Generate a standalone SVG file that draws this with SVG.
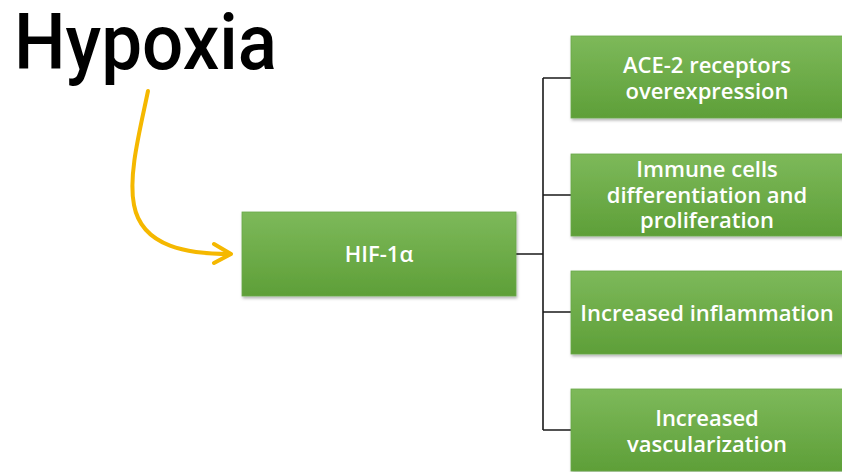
<svg xmlns="http://www.w3.org/2000/svg" width="842" height="472" viewBox="0 0 842 472">
  <defs>
    <linearGradient id="g" x1="0" y1="0" x2="0" y2="1">
      <stop offset="0" stop-color="#7db95a"/>
      <stop offset="1" stop-color="#5e9f38"/>
    </linearGradient>
    <filter id="sh" x="-10%" y="-10%" width="120%" height="130%">
      <feDropShadow dx="1" dy="2" stdDeviation="1.5" flood-color="#000" flood-opacity="0.3"/>
    </filter>
  </defs>
  <style>
    .box { fill: url(#g); stroke: #6aa84a; stroke-width: 0.8; filter: url(#sh); }
    .lbl { font-family: "Open Sans", "Noto Sans", sans-serif; font-weight: 600; font-size: 22px; fill: #ffffff; text-anchor: middle; }
    .conn { fill: none; stroke: #1a1a1a; stroke-width: 1.6; }
    .yel { fill: none; stroke: #f5b800; stroke-width: 4; stroke-linecap: round; stroke-linejoin: round; }
  </style>
  <rect width="842" height="472" fill="#ffffff"/>

  <g id="hypoxia">
    <text x="14" y="69" font-family="Roboto, Liberation Sans, sans-serif" font-weight="500" font-size="78" fill="#000" textLength="263" lengthAdjust="spacingAndGlyphs">Hypoxia</text>
  </g>

  <g id="connectors">
    <path class="yel" d="M148 91 C140 130 128 175 134 205 C142 248 190 254 230 254"/>
    <path class="yel" d="M214 244 L231 254 L214 263"/>
    <path class="conn" d="M516 254 H543 M543 78 V430 M543 78 H571 M543 195 H571 M543 312 H571 M543 430 H571"/>
  </g>

  <g id="hif">
    <rect class="box" x="242" y="212" width="274" height="84"/>
    <text class="lbl" x="379" y="262">HIF-1α</text>
  </g>

  <g id="ace2">
    <rect class="box" x="571" y="36" width="275" height="82"/>
    <text class="lbl" x="707" y="73">ACE-2 receptors</text>
    <text class="lbl" x="707" y="99">overexpression</text>
  </g>

  <g id="immune">
    <rect class="box" x="571" y="154" width="275" height="82"/>
    <text class="lbl" x="707" y="177">Immune cells</text>
    <text class="lbl" x="707" y="203">differentiation and</text>
    <text class="lbl" x="707" y="228">proliferation</text>
  </g>

  <g id="inflammation">
    <rect class="box" x="571" y="271" width="275" height="83"/>
    <text class="lbl" x="707" y="321">Increased inflammation</text>
  </g>

  <g id="vascularization">
    <rect class="box" x="571" y="389" width="275" height="82"/>
    <text class="lbl" x="707" y="426">Increased</text>
    <text class="lbl" x="707" y="452">vascularization</text>
  </g>
</svg>
